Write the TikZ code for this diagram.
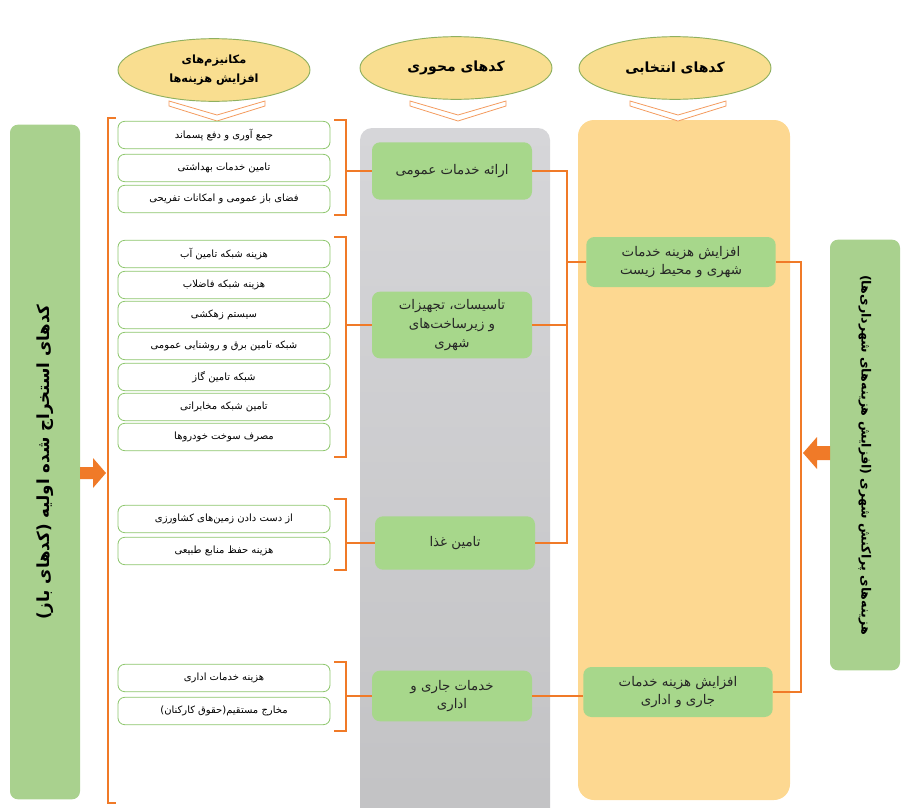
\documentclass[tikz,border=0pt]{standalone}
\usepackage{fontspec}
\newfontfamily\fafont[Script=Arabic]{DejaVu Sans}
\TeXXeTstate=1
\usetikzlibrary{shapes.geometric,calc}
\newcommand{\fa}[1]{\beginR #1\endR}

\definecolor{lineorange}{HTML}{F07A28}
\definecolor{titlefill}{HTML}{F9DE90}
\definecolor{titleborder}{HTML}{8FB060}
\definecolor{itemborder}{HTML}{8DC66C}
\definecolor{boxgreen}{HTML}{A7D78B}
\definecolor{bargreen}{HTML}{A9D18E}
\definecolor{colgray}{HTML}{D6D6D9}
\definecolor{colgraydark}{HTML}{C2C2C4}
\definecolor{colorange}{HTML}{FDD891}

\tikzset{
  title/.style={ellipse, draw=titleborder, fill=titlefill, line width=0.7pt,
    minimum width=144pt, minimum height=47pt, inner sep=0pt, align=center,
    font=\fafont\bfseries\fontsize{10.5}{14}\selectfont},
  item/.style={draw=itemborder, fill=white, rounded corners=5pt, line width=0.6pt,
    minimum width=159pt, minimum height=20.5pt, inner sep=0pt,
    font=\fafont\fontsize{7.5}{8}\selectfont},
  axial/.style={fill=boxgreen, rounded corners=6pt, minimum width=120pt,
    inner sep=0pt, align=center, text=black!85,
    font=\fafont\fontsize{10}{14}\selectfont},
  chosen/.style={axial, minimum width=142pt, minimum height=37.5pt},
  bar/.style={fill=bargreen, rounded corners=6pt, minimum height=52.5pt,
    inner sep=0pt, font=\fafont\bfseries\fontsize{12.5}{14}\selectfont},
  link/.style={draw=lineorange, line width=1.2pt},
  chevron/.style={draw=lineorange!75, fill=white, line width=0.6pt},
}

\begin{document}
\begin{tikzpicture}[x=0.75pt,y=-0.75pt]
  \useasboundingbox (0,0) rectangle (910,807);

  % columns
  \shade[top color=colgray, bottom color=colgraydark, rounded corners=9pt]
    (360,128) rectangle (550,830);
  \fill[colorange, rounded corners=12pt] (578,120) rectangle (790,800);

  % headings
  \node[title, font=\fafont\bfseries\fontsize{8.5}{14}\selectfont] (mech) at (214,70)
    {\fa{مکانیزم‌های}\\\fa{افزایش هزینه‌ها}};
  \node[title] (axis) at (456,68) {\fa{کدهای محوری}};
  \node[title] (sel) at (675,68) {\fa{کدهای انتخابی}};
  \foreach \cx in {217,458,678}
    \draw[chevron] (\cx-48,101) -- (\cx,115) -- (\cx+48,101) -- (\cx+48,106)
      -- (\cx,121) -- (\cx-48,106) -- cycle;

  % side bars
  \node[bar, rotate=90, minimum width=506pt] (open) at (45,462)
    {\fa{کدهای استخراج شده اولیه (کدهای باز)}};
  \node[bar, rotate=-90, minimum width=323pt, font=\fafont\bfseries\fontsize{9.5}{12}\selectfont]
    (urban) at (865,455)
    {\fa{هزینه‌های پراکنش شهری (افزایش هزینه‌های شهرداری‌ها)}};

  % mechanisms
  \node[item] (g1a) at (224,135) {\fa{جمع آوری و دفع پسماند}};
  \node[item] (g1b) at (224,168) {\fa{تامین خدمات بهداشتی}};
  \node[item] (g1c) at (224,199) {\fa{فضای باز عمومی و امکانات تفریحی}};

  \node[item] (g2a) at (224,254) {\fa{هزینه شبکه تامین آب}};
  \node[item] (g2b) at (224,285) {\fa{هزینه شبکه فاضلاب}};
  \node[item] (g2c) at (224,315) {\fa{سیستم زهکشی}};
  \node[item] (g2d) at (224,346) {\fa{شبکه تامین برق و روشنایی عمومی}};
  \node[item] (g2e) at (224,377) {\fa{شبکه تامین گاز}};
  \node[item] (g2f) at (224,407) {\fa{تامین شبکه مخابراتی}};
  \node[item] (g2g) at (224,437) {\fa{مصرف سوخت خودروها}};

  \node[item] (g3a) at (224,519) {\fa{از دست دادن زمین‌های کشاورزی}};
  \node[item] (g3b) at (224,551) {\fa{هزینه حفظ منابع طبیعی}};

  \node[item] (g4a) at (224,678) {\fa{هزینه خدمات اداری}};
  \node[item] (g4b) at (224,711) {\fa{مخارج مستقیم(حقوق کارکنان)}};

  % axial codes
  \node[axial, minimum height=43pt] (a1) at (452,171) {\fa{ارائه خدمات عمومی}};
  \node[axial, minimum height=50pt] (a2) at (452,325)
    {\fa{تاسیسات، تجهیزات}\\\fa{و زیرساخت‌های}\\\fa{شهری}};
  \node[axial, minimum height=40pt] (a3) at (455,543) {\fa{تامین غذا}};
  \node[axial, minimum height=38pt] (a4) at (452,696)
    {\fa{خدمات جاری و}\\\fa{اداری}};

  % selective codes
  \node[chosen] (s1) at (681,262) {\fa{افزایش هزینه خدمات}\\\fa{شهری و محیط زیست}};
  \node[chosen] (s2) at (678,692) {\fa{افزایش هزینه خدمات}\\\fa{جاری و اداری}};

  % brackets
  \coordinate (br) at (346,0);
  \coordinate (jx) at (567,0);
  \coordinate (rx) at (801,0);
  \coordinate (lt) at (108,118);
  \coordinate (lb) at (108,803);

  \draw[link] ($(g1a.north east)+(4,-1)$) -| ($(br |- g1c.south)+(0,2)$) -- ++(-12,0);
  \draw[link] ($(g2a.north east)+(4,-3)$) -| ($(br |- g2g.south)+(0,6)$) -- ++(-12,0);
  \draw[link] ($(g3a.north east)+(4,-6)$) -| ($(br |- g3b.south)+(0,5)$) -- ++(-12,0);
  \draw[link] ($(g4a.north east)+(4,-2)$) -| ($(br |- g4b.south)+(0,6)$) -- ++(-12,0);
  \draw[link] (br |- a1.west) -- (a1.west);
  \draw[link] (br |- a2.west) -- (a2.west);
  \draw[link] (br |- a3.west) -- (a3.west);
  \draw[link] (br |- a4.west) -- (a4.west);

  \draw[link] (a1.east) -| (jx |- a3.east) -- (a3.east);
  \draw[link] (a2.east) -- (jx |- a2.east);
  \draw[link] (jx |- s1.west) -- (s1.west);
  \draw[link] (a4.east) -- (a4.east -| s2.west);
  \draw[link] (s1.east) -| (rx |- s2.east) -- (s2.east);

  \draw[link] ($(lt)+(8,0)$) -- (lt) -- (lb) -- ++(8,0);

  % arrows
  \fill[lineorange] (80,467) -- (93,467) -- (93,458) -- (106,473) -- (93,488)
    -- (93,479) -- (80,479) -- cycle;
  \fill[lineorange] (830,446) -- (817,446) -- (817,437) -- (803,453) -- (817,469)
    -- (817,460) -- (830,460) -- cycle;
\end{tikzpicture}
\end{document}
